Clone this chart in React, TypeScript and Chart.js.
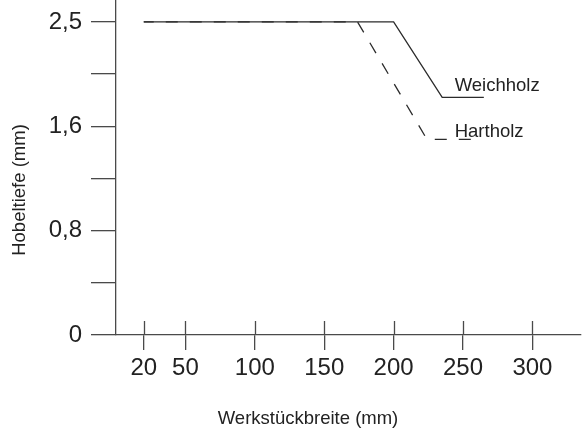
import React, { useEffect, useRef } from "react";
import { Chart, registerables } from "chart.js";

Chart.register(...registerables);

// ---- data ----
const xTicks = [20, 50, 100, 150, 200, 250, 300];
const yTickLabels = ["0", "", "0,8", "", "1,6", "", "2,5"];
const yLabelledValues = [0, 0.8, 1.6, 2.5]; // mm values at the labelled ticks

const weichX = [20, 200, 235, 265];
const weichY = [2.5, 2.5, 1.85, 1.85];
const hartX = [20, 174, 224, 257];
const hartY = [2.5, 2.5, 1.5, 1.5];

const seriesNames = ["Weichholz", "Hartholz"];
const seriesLabelX = [244, 244];
const xTitle = "Werkstückbreite (mm)";
const yTitle = "Hobeltiefe (mm)";

// ---- style ----
const FONT = '"Liberation Sans", Arial, Helvetica, sans-serif';
const AXIS = "#4a4a4a";
const LINE = "#2b2b2b";
const TEXT = "#222222";

// the y axis is drawn with equal spacing between labelled values
function mmToStep(v: number): number {
  const n = yLabelledValues.length;
  for (let i = 0; i < n - 1; i++) {
    const a = yLabelledValues[i];
    const b = yLabelledValues[i + 1];
    if (v <= b || i === n - 2) return 2 * i + (2 * (v - a)) / (b - a);
  }
  return 0;
}

const decor = {
  id: "decor",
  afterDraw(chart: any) {
    const { ctx, chartArea, scales } = chart;
    const x = scales.x;
    const y = scales.y;
    ctx.save();
    // upper half of the x ticks (they cross the axis)
    ctx.strokeStyle = AXIS;
    ctx.lineWidth = 1.3;
    ctx.beginPath();
    xTicks.forEach((v) => {
      const px = Math.round(x.getPixelForValue(v)) + 0.5;
      ctx.moveTo(px, chartArea.bottom);
      ctx.lineTo(px, chartArea.bottom - 14);
    });
    ctx.stroke();

    // series labels
    ctx.fillStyle = TEXT;
    ctx.font = `18.5px ${FONT}`;
    ctx.textAlign = "left";
    ctx.textBaseline = "alphabetic";
    const ends = [weichY[weichY.length - 1], hartY[hartY.length - 1]];
    const offsets = [-6, -2.5];
    seriesNames.forEach((name, i) => {
      ctx.fillText(
        name,
        x.getPixelForValue(seriesLabelX[i]),
        y.getPixelForValue(mmToStep(ends[i])) + offsets[i]
      );
    });

    // axis titles
    ctx.textAlign = "center";
    ctx.textBaseline = "middle";
    ctx.fillText(xTitle, 308, 419);
    ctx.translate(20, 190);
    ctx.rotate(-Math.PI / 2);
    ctx.fillText(yTitle, 0, 0);
    ctx.restore();
  },
};

export default function App() {
  const ref = useRef<HTMLCanvasElement | null>(null);

  useEffect(() => {
    if (!ref.current) return;
    const chart = new Chart(ref.current, {
      type: "line",
      data: {
        datasets: [
          {
            label: seriesNames[0],
            data: weichX.map((v, i) => ({ x: v, y: mmToStep(weichY[i]) })),
            borderColor: LINE,
            borderWidth: 1.3,
            pointRadius: 0,
            fill: false,
            tension: 0,
          },
          {
            label: seriesNames[1],
            data: hartX.map((v, i) => ({ x: v, y: mmToStep(hartY[i]) })),
            borderColor: LINE,
            borderWidth: 1.3,
            borderDash: [12, 12],
            borderDashOffset: 2,
            pointRadius: 0,
            fill: false,
            tension: 0,
          },
        ],
      },
      options: {
        animation: false,
        responsive: true,
        maintainAspectRatio: false,
        layout: { padding: { left: 0, right: 1, top: 0, bottom: 0 } },
        plugins: {
          legend: { display: false },
          tooltip: { enabled: false },
        },
        scales: {
          x: {
            type: "linear",
            min: 0,
            max: 335,
            afterBuildTicks: (s: any) => {
              s.ticks = xTicks.map((v) => ({ value: v }));
            },
            afterFit: (s: any) => {
              s.height = 97;
              s.paddingLeft = 0;
              s.paddingRight = 0;
            },
            grid: {
              display: true,
              drawOnChartArea: false,
              drawTicks: true,
              tickLength: 15,
              color: AXIS,
              lineWidth: 1.3,
            },
            border: { display: true, color: AXIS, width: 1.3 },
            ticks: {
              autoSkip: false,
              maxRotation: 0,
              padding: 4,
              color: TEXT,
              font: { family: FONT, size: 24 },
              callback: (v: any) => String(v),
            },
          },
          y: {
            type: "linear",
            min: 0,
            max: 6.42,
            afterBuildTicks: (s: any) => {
              s.ticks = yTickLabels.map((_, i) => ({ value: i }));
            },
            afterFit: (s: any) => {
              s.width = 116;
              s.paddingTop = 0;
              s.paddingBottom = 0;
            },
            grid: {
              display: true,
              drawOnChartArea: false,
              drawTicks: true,
              tickLength: 25,
              color: AXIS,
              lineWidth: 1.3,
            },
            border: { display: true, color: AXIS, width: 1.3 },
            ticks: {
              autoSkip: false,
              padding: 9,
              color: TEXT,
              font: { family: FONT, size: 24 },
              callback: (_v: any, i: number) => yTickLabels[i] ?? "",
            },
          },
        },
      },
      plugins: [decor],
    });
    return () => chart.destroy();
  }, []);

  return (
    <div
      style={{
        position: "fixed",
        left: 0,
        top: 0,
        width: 582,
        height: 432,
        background: "#ffffff",
      }}
    >
      <canvas ref={ref} />
    </div>
  );
}
